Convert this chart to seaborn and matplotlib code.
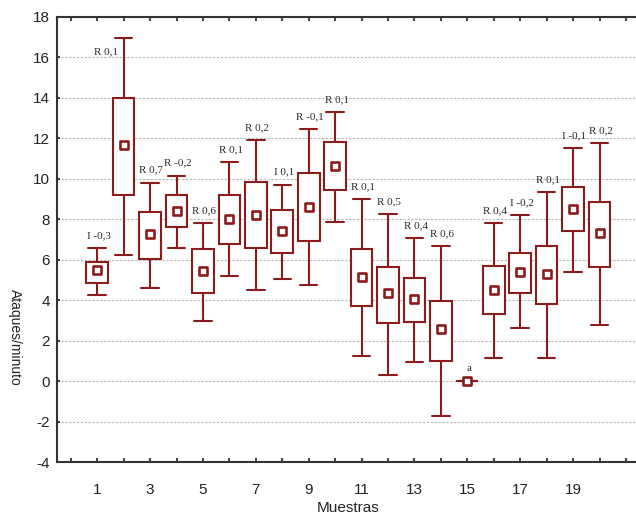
import numpy as np
import pandas as pd
import seaborn as sns
import matplotlib
matplotlib.use("Agg")
import matplotlib.pyplot as plt

# valores (minimo, q1, centro, q3, maximo) por muestra
muestras = list(range(1, 21))
minimo = [4.25, 6.25, 4.6, 6.55, 2.95, 5.2, 4.5, 5.05, 4.75, 7.85,
          1.25, 0.3, 0.95, -1.75, 0.0, 1.15, 2.6, 1.15, 5.4, 2.75]
q1 = [4.85, 9.2, 6.05, 7.6, 4.35, 6.75, 6.55, 6.35, 6.9, 9.45,
      3.7, 2.85, 2.9, 1.0, 0.0, 3.3, 4.35, 3.8, 7.4, 5.65]
centro = [5.5, 11.65, 7.25, 8.4, 5.45, 8.0, 8.2, 7.4, 8.6, 10.6,
          5.15, 4.35, 4.05, 2.55, 0.0, 4.5, 5.4, 5.3, 8.5, 7.3]
q3 = [5.9, 14.0, 8.35, 9.2, 6.5, 9.2, 9.85, 8.45, 10.3, 11.8,
      6.5, 5.65, 5.1, 3.95, 0.0, 5.7, 6.35, 6.65, 9.6, 8.85]
maximo = [6.55, 16.95, 9.8, 10.15, 7.8, 10.8, 11.9, 9.7, 12.45, 13.3,
          9.0, 8.25, 7.05, 6.65, 0.0, 7.8, 8.2, 9.35, 11.5, 11.75]
etiquetas = ["I -0,3", "R 0,1", "R 0,7", "R -0,2", "R 0,6", "R 0,1", "R 0,2",
             "I 0,1", "R -0,1", "R 0,1", "R 0,1", "R 0,5", "R 0,4", "R 0,6",
             "a", "R 0,4", "I -0,2", "R 0,1", "I -0,1", "R 0,2"]
ticks_x = list(range(0, 22))
ticks_x_txt = ["", "1", "", "3", "", "5", "", "7", "", "9", "", "11", "",
               "13", "", "15", "", "17", "", "19", "", ""]
ticks_y = [-4, -2, 0, 2, 4, 6, 8, 10, 12, 14, 16, 18]

rojo = "#8c1c1c"

filas = []
for i, m in enumerate(muestras):
    for v in (minimo[i], q1[i], centro[i], q3[i], maximo[i]):
        filas.append({"muestra": m, "valor": v})
df = pd.DataFrame(filas)
df_centro = pd.DataFrame({"muestra": muestras, "centro": centro})

sns.set_theme(style="white")
plt.rcParams["font.family"] = ["Liberation Sans", "DejaVu Sans"]
plt.rcParams["axes.unicode_minus"] = False

fig = plt.figure(figsize=(6.36, 5.17), dpi=100)
ax = fig.add_axes([57 / 636, 1 - 462 / 517, (636 - 57) / 636, (462 - 16.7) / 517])

ax.grid(True, axis="y", linestyle=(0, (2, 1.5)), linewidth=0.8, color="#b5b5b5")
ax.set_axisbelow(True)

sns.boxplot(
    data=df, x="muestra", y="valor",
    native_scale=True,
    whis=(0, 100),
    width=0.82,
    color="white",
    linecolor=rojo,
    linewidth=1.5,
    showfliers=False,
    medianprops={"linewidth": 0},
    capwidths=0.66,
    ax=ax,
)

sns.scatterplot(
    data=df_centro, x="muestra", y="centro",
    marker="s", s=30, color="white", edgecolor=rojo, linewidth=1.9,
    zorder=5, ax=ax,
)

for i, m in enumerate(muestras):
    if i == 1:
        off = (-13, -10)
    else:
        off = (1, 9)
    ax.annotate(etiquetas[i], (m, maximo[i]), xytext=off, textcoords="offset points",
                ha="center", va="center", fontsize=8, family="Liberation Serif",
                color="#2a2a2a")

ax.set_xlim(-0.52, 21.38)
ax.set_ylim(-4, 18)
ax.set_xticks(ticks_x)
ax.set_xticklabels(ticks_x_txt)
ax.set_yticks(ticks_y)
ax.tick_params(axis="x", direction="in", length=3, width=1.2, top=True,
               bottom=True, pad=15, labelsize=11, colors="#222222")
ax.tick_params(axis="y", direction="in", length=2, width=1.2, left=True,
               pad=5, labelsize=11, colors="#222222")

for s in ("left", "bottom", "top"):
    ax.spines[s].set_color("#333333")
    ax.spines[s].set_linewidth(1.5)
ax.spines["right"].set_visible(False)

ax.set_xlabel("Muestras", fontsize=11, color="#222222", va="top")
ax.xaxis.set_label_coords(0.503, -0.088)
ax.set_ylabel("Ataques/minuto", fontsize=10, color="#222222", rotation=270,
              va="center", ha="center")
ax.yaxis.set_label_coords(-0.073, 0.28)

fig.savefig("out.png", dpi=100)
